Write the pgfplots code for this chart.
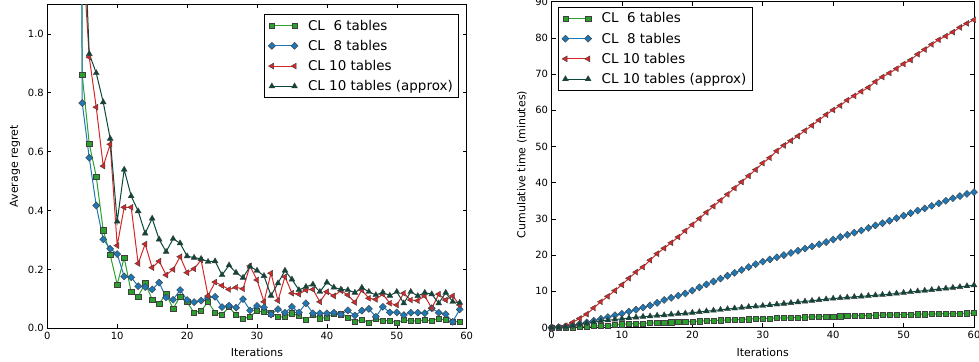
\documentclass[border=0pt]{standalone}
\usepackage{pgfplots}
\pgfplotsset{compat=1.18}
\usepackage{fontspec}
\setmainfont{DejaVu Sans}
\definecolor{cgreen}{RGB}{44,160,44}
\definecolor{cblue}{RGB}{31,119,180}
\definecolor{cred}{RGB}{214,39,40}
\definecolor{cdark}{RGB}{12,72,58}
\pgfplotsset{
  myaxis/.style={
    scale only axis,
    /pgf/number format/assume math mode=true,
    axis line style={black, line width=0.8bp},
    tick style={black, line width=0.6bp},
    major tick length=4bp,
    tick align=inside,
    xtick pos=both, ytick pos=both,
    tick label style={font=\fontsize{10}{12}\selectfont},
    label style={font=\fontsize{11}{13}\selectfont},
    xmin=0, xmax=60, xtick={0,10,...,60},
    legend cell align=left,
    legend style={draw=black, line width=0.8bp, fill=white,
      font=\fontsize{13.5}{16}\selectfont, row sep=4.5bp,
      inner xsep=4bp, inner ysep=3bp,
      nodes={inner sep=2bp},
      /tikz/every odd column/.append style={column sep=8bp}},
    legend image code/.code={\draw[mark repeat=1,mark phase=1] plot coordinates {(0cm,0cm) (0.8cm,0cm)};},
    every axis plot/.append style={line width=1bp},
  },
  sgreen/.style={color=cgreen, mark=square*, mark size=2.6bp, mark options={fill=cgreen, draw=black!75, line width=0.4bp}},
  sblue/.style={color=cblue, mark=square*, mark size=2.5bp, mark options={rotate=45, fill=cblue, draw=black!75, line width=0.4bp}},
  sred/.style={color=cred, mark=triangle*, mark size=3.4bp, mark options={rotate=90, fill=cred, draw=black!75, line width=0.4bp}},
  sdark/.style={color=cdark, mark=triangle*, mark size=3.4bp, mark options={fill=cdark, draw=black!75, line width=0.4bp}},
}
\begin{document}
\begin{tikzpicture}
\begin{axis}[myaxis,
  at={(47.3bp,33.7bp)}, anchor=south west,
  width=419.4bp, height=323.9bp,
  ymin=0, ymax=1.1, ytick={0,0.2,...,1.0},
  yticklabel style={/pgf/number format/.cd, fixed, fixed zerofill, precision=1},
  xlabel={Iterations}, ylabel={Average regret},
  xlabel style={at={(axis description cs:0.5,-0.073)}, anchor=center},
  ylabel style={at={(axis description cs:-0.077,0.5)}, anchor=center},
  legend style={at={(1,1)}, anchor=north east, xshift=-7.5bp, yshift=-10bp},
]
\addplot[sgreen] coordinates {
(4,10) (5,0.86) (6,0.627) (7,0.516) (8,0.333) (9,0.249) (10,0.149) (11,0.240) (12,0.123) (13,0.108) (14,0.153) (15,0.098) (16,0.084) (17,0.116) (18,0.067) (19,0.108) (20,0.089) (21,0.053) (22,0.060) (23,0.089) (24,0.054) (25,0.047) (26,0.072) (27,0.045) (28,0.032) (29,0.040)
(30,0.059) (31,0.056) (32,0.051) (33,0.039) (34,0.039) (35,0.051) (36,0.042) (37,0.028) (38,0.045) (39,0.034) (40,0.037) (41,0.050) (42,0.048) (43,0.037) (44,0.022) (45,0.030) (46,0.019) (47,0.034) (48,0.026) (49,0.026) (50,0.019) (51,0.028) (52,0.026) (53,0.025) (54,0.028) (55,0.026) (56,0.033) (57,0.028) (58,0.023) (59,0.022)};
\addlegendentry{CL\ \ 6 tables}
\addplot[sblue] coordinates {
(4,6) (5,0.765) (6,0.579) (7,0.417) (8,0.302) (9,0.270) (10,0.252) (11,0.176) (12,0.173) (13,0.143) (14,0.140) (15,0.132) (16,0.155) (17,0.105) (18,0.097) (19,0.130) (20,0.096) (21,0.089) (22,0.094) (23,0.106) (24,0.107) (25,0.072) (26,0.077) (27,0.070) (28,0.099) (29,0.061)
(30,0.076) (31,0.071) (32,0.047) (33,0.065) (34,0.053) (35,0.073) (36,0.054) (37,0.085) (38,0.051) (39,0.051) (40,0.051) (41,0.053) (42,0.047) (43,0.061) (44,0.043) (45,0.060) (46,0.066) (47,0.039) (48,0.073) (49,0.054) (50,0.054) (51,0.045) (52,0.053) (53,0.053) (54,0.051) (55,0.068) (56,0.053) (57,0.048) (58,0.022) (59,0.064)};
\addlegendentry{CL\ \ 8 tables}
\addplot[sred] coordinates {
(5,1.30) (6,0.921) (7,0.751) (8,0.551) (9,0.625) (10,0.281) (11,0.411) (12,0.411) (13,0.220) (14,0.286) (15,0.206) (16,0.228) (17,0.181) (18,0.200) (19,0.243) (20,0.189) (21,0.202) (22,0.232) (23,0.110) (24,0.157) (25,0.145) (26,0.132) (27,0.139) (28,0.134) (29,0.212)
(30,0.164) (31,0.090) (32,0.187) (33,0.094) (34,0.175) (35,0.119) (36,0.116) (37,0.130) (38,0.132) (39,0.090) (40,0.124) (41,0.110) (42,0.128) (43,0.113) (44,0.088) (45,0.130) (46,0.102) (47,0.098) (48,0.116) (49,0.085) (50,0.079) (51,0.119) (52,0.096) (53,0.094) (54,0.110) (55,0.068) (56,0.116) (57,0.096) (58,0.110) (59,0.079)};
\addlegendentry{CL 10 tables}
\addplot[sdark] coordinates {
(5,1.52) (6,0.932) (7,0.867) (8,0.768) (9,0.644) (10,0.363) (11,0.539) (12,0.449) (13,0.398) (14,0.322) (15,0.373) (16,0.302) (17,0.260) (18,0.304) (19,0.289) (20,0.245) (21,0.240) (22,0.236) (23,0.226) (24,0.228) (25,0.181) (26,0.214) (27,0.189) (28,0.172) (29,0.210)
(30,0.196) (31,0.178) (32,0.111) (33,0.153) (34,0.196) (35,0.166) (36,0.130) (37,0.141) (38,0.149) (39,0.124) (40,0.156) (41,0.139) (42,0.132) (43,0.130) (44,0.121) (45,0.138) (46,0.124) (47,0.113) (48,0.122) (49,0.111) (50,0.124) (51,0.085) (52,0.124) (53,0.110) (54,0.121) (55,0.116) (56,0.085) (57,0.121) (58,0.090) (59,0.087)};
\addlegendentry{CL 10 tables (approx)}
\end{axis}
\begin{axis}[myaxis,
  at={(551.5bp,34.5bp)}, anchor=south west,
  width=422.5bp, height=325.8bp,
  ymin=0, ymax=90, ytick={0,10,...,90},
  xlabel={Iterations}, ylabel={Cumulative time (minutes)},
  xlabel style={at={(axis description cs:0.5,-0.075)}, anchor=center},
  ylabel style={at={(axis description cs:-0.07,0.5)}, anchor=center},
  legend style={at={(0,1)}, anchor=north west, xshift=6bp, yshift=-5.5bp},
]
\addplot[sgreen] coordinates {
(0,0) (1,0.02) (2,0.05) (3,0.1) (4,0.2) (5,0.3) (6,0.4) (7,0.5) (8,0.6) (9,0.75) (10,0.9) (11,1.0) (12,1.08) (13,1.15) (14,1.22) (15,1.3) (16,1.38) (17,1.45) (18,1.52) (19,1.6) (20,1.68) (21,1.76) (22,1.84) (23,1.92) (24,2.0) (25,2.08) (26,2.16) (27,2.24) (28,2.32) (29,2.4) (30,2.48) (31,2.54) (32,2.6) (33,2.66) (34,2.72) (35,2.78) (36,2.84) (37,2.9) (38,2.96) (39,3.02) (40,3.08) (41,3.13) (42,3.18) (43,3.23) (44,3.28) (45,3.33) (46,3.38) (47,3.43) (48,3.48) (49,3.53) (50,3.58) (51,3.62) (52,3.66) (53,3.7) (54,3.74) (55,3.78) (56,3.82) (57,3.86) (58,3.9) (59,3.95) (60,4.0)};
\addlegendentry{CL\ \ 6 tables}
\addplot[sblue] coordinates {
(0,0) (1,0.1) (2,0.3) (3,0.6) (4,1.0) (5,1.4) (6,1.9) (7,2.4) (8,2.9) (9,3.4) (10,3.8) (11,4.4) (12,4.9) (13,5.5) (14,6.1) (15,6.8) (16,7.6) (17,8.2) (18,8.8) (19,9.4) (20,10.2) (21,11.1) (22,11.9) (23,12.7) (24,13.5) (25,14.3) (26,15.1) (27,15.9) (28,16.7) (29,17.5) (30,18.2) (31,18.8) (32,19.4) (33,20.0) (34,20.6) (35,21.2) (36,21.8) (37,22.4) (38,23.0) (39,23.6) (40,24.3) (41,25.0) (42,25.6) (43,26.2) (44,26.8) (45,27.5) (46,28.2) (47,28.8) (48,29.5) (49,30.2) (50,30.9) (51,31.6) (52,32.3) (53,32.9) (54,33.6) (55,34.3) (56,35.0) (57,35.7) (58,36.3) (59,36.9) (60,37.4)};
\addlegendentry{CL\ \ 8 tables}
\addplot[sred] coordinates {
(0,0) (1,0.1) (2,0.5) (3,1.4) (4,2.5) (5,3.7) (6,5.4) (7,7.1) (8,8.6) (9,10.2) (10,11.8) (11,13.6) (12,15.3) (13,16.7) (14,18.6) (15,20.4) (16,21.9) (17,23.4) (18,25.0) (19,26.7) (20,28.4) (21,30.1) (22,31.8) (23,33.5) (24,35.1) (25,36.8) (26,38.5) (27,40.2) (28,41.9) (29,43.6) (30,45.4) (31,46.9) (32,48.8) (33,50.3) (34,51.6) (35,52.9) (36,54.4) (37,55.8) (38,57.3) (39,58.8) (40,60.1) (41,61.3) (42,62.8) (43,64.0) (44,65.2) (45,66.3) (46,67.9) (47,69.2) (48,70.3) (49,71.5) (50,72.8) (51,73.9) (52,75.5) (53,76.8) (54,78.2) (55,79.5) (56,80.5) (57,81.6) (58,82.9) (59,84.0) (60,85.0)};
\addlegendentry{CL 10 tables}
\addplot[sdark] coordinates {
(0,0) (1,0.05) (2,0.2) (3,0.5) (4,0.9) (5,1.2) (6,1.5) (7,1.8) (8,2.0) (9,2.2) (10,2.4) (11,2.6) (12,2.8) (13,3.0) (14,3.1) (15,3.3) (16,3.4) (17,3.6) (18,3.8) (19,3.9) (20,4.1) (21,4.3) (22,4.5) (23,4.7) (24,4.9) (25,5.1) (26,5.3) (27,5.5) (28,5.7) (29,5.85) (30,6.0) (31,6.2) (32,6.4) (33,6.6) (34,6.8) (35,7.0) (36,7.2) (37,7.4) (38,7.6) (39,7.8) (40,8.0) (41,8.15) (42,8.3) (43,8.45) (44,8.6) (45,8.75) (46,8.9) (47,9.05) (48,9.2) (49,9.4) (50,9.6) (51,9.8) (52,10.0) (53,10.2) (54,10.4) (55,10.6) (56,10.8) (57,11.0) (58,11.2) (59,11.45) (60,11.7)};
\addlegendentry{CL 10 tables (approx)}
\end{axis}
\pgfresetboundingbox
\path[use as bounding box] (0,0) rectangle (979bp,362bp);
\end{tikzpicture}
\end{document}
